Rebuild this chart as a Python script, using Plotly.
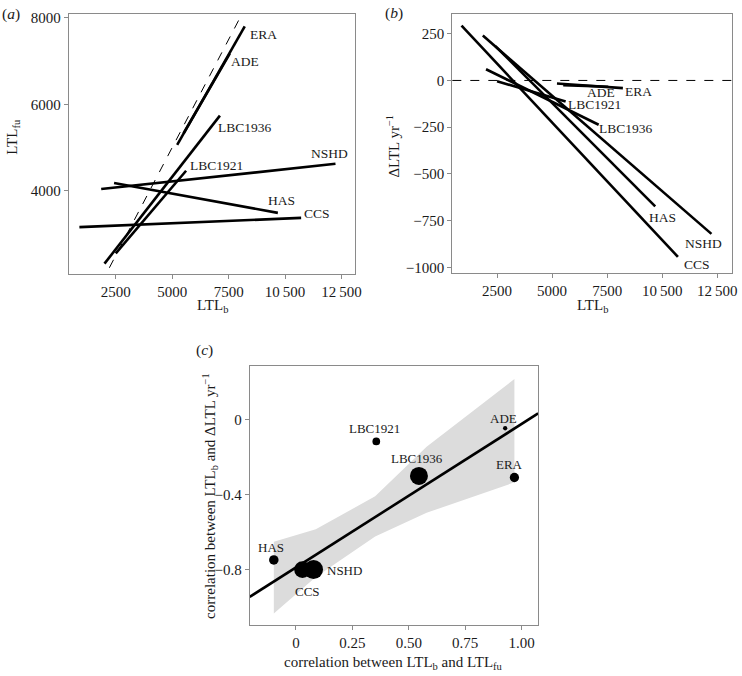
import plotly.graph_objects as go

# ---------------- data ----------------
cohorts = ["ERA", "ADE", "LBC1936", "LBC1921", "NSHD", "HAS", "CCS"]

# panel (a)/(b): regression segments over baseline LTL range
ltl_b_start = [5220, 5505, 2000, 2500, 1855, 2424, 889]
ltl_b_end = [8213, 7550, 7113, 5615, 12233, 9680, 10711]
ltl_fu_start = [5060, 5329, 2311, 2548, 4039, 4177, 3157]
ltl_fu_end = [7802, 7173, 5737, 4461, 4622, 3486, 3371]
dltl_start = [-16, -25, 60, -4, 240, 184, 293]
dltl_end = [-41, -34, -237, -113, -821, -674, -944]

# label positions (a)
lab_a_x = [9047, 8238, 8238, 6964, 11973, 9851, 11402]
lab_a_y = [7627, 6982, 5468, 4576, 4869, 3770, 3463]
# label positions (b)
lab_b_x = [8919, 7205, 8364, 6934, 11868, 10019, 11566]
lab_b_y = [-57, -65, -255, -131, -874, -734, -983]

# panel (c)
corr_b_fu = [0.968, 0.927, 0.545, 0.356, 0.078, -0.098, 0.029]
corr_b_dltl = [-0.308, -0.046, -0.300, -0.116, -0.798, -0.747, -0.798]
lab_c_x = [0.945, 0.918, 0.535, 0.349, 0.215, -0.110, 0.051]
lab_c_y = [-0.241, 0.005, -0.209, -0.047, -0.805, -0.682, -0.917]
fit_intercept = -0.787
fit_slope = 0.764
band_x = [-0.098, 0.088, 0.351, 0.579, 0.968]
band_upper = [-0.650, -0.584, -0.408, -0.144, 0.216]
band_lower = [-1.032, -0.838, -0.622, -0.496, -0.334]

ticks_ltl = [2500, 5000, 7500, 10000, 12500]
ticks_ltl_text = ["2500", "5000", "7500", "10\u2009500", "12\u2009500"]

# ---------------- style ----------------
FONT = "Liberation Serif"
W, H = 742, 676
marker_diam = [9.3, 4.3, 18, 7.7, 19, 9.5, 16.7]
frame_col = "#8a8a8a"
txt_col = "#1a1a1a"

fig = go.Figure()

# panel a
for i, c in enumerate(cohorts):
    fig.add_trace(go.Scatter(
        x=[ltl_b_start[i], ltl_b_end[i]], y=[ltl_fu_start[i], ltl_fu_end[i]],
        mode="lines", line=dict(color="black", width=2.6),
        xaxis="x", yaxis="y", showlegend=False, hoverinfo="skip"))
# identity
ident = [0, 10000]
fig.add_trace(go.Scatter(x=ident, y=ident, mode="lines",
                         line=dict(color="black", width=1, dash="dash"),
                         xaxis="x", yaxis="y", showlegend=False, hoverinfo="skip"))

# panel b
for i, c in enumerate(cohorts):
    fig.add_trace(go.Scatter(
        x=[ltl_b_start[i], ltl_b_end[i]], y=[dltl_start[i], dltl_end[i]],
        mode="lines", line=dict(color="black", width=2.6),
        xaxis="x2", yaxis="y2", showlegend=False, hoverinfo="skip"))

# panel c: ribbon
fig.add_trace(go.Scatter(
    x=band_x + band_x[::-1], y=band_upper + band_lower[::-1],
    fill="toself", fillcolor="#dcdcdc", line=dict(width=0),
    mode="lines", xaxis="x3", yaxis="y3", showlegend=False, hoverinfo="skip"))
xr3 = [-0.205, 1.073]
fig.add_trace(go.Scatter(
    x=xr3, y=[fit_intercept + fit_slope * v for v in xr3],
    mode="lines", line=dict(color="black", width=2.6),
    xaxis="x3", yaxis="y3", showlegend=False, hoverinfo="skip"))
fig.add_trace(go.Scatter(
    x=corr_b_fu, y=corr_b_dltl, mode="markers",
    marker=dict(color="#000000", size=marker_diam, opacity=1,
                line=dict(width=0, color="#000000")),
    opacity=1,
    xaxis="x3", yaxis="y3", showlegend=False, hoverinfo="skip"))


def F(size):
    return dict(family=FONT, size=size, color=txt_col)


ann = []
for i, c in enumerate(cohorts):
    ann.append(dict(x=lab_a_x[i], y=lab_a_y[i], xref="x", yref="y", text=c,
                    showarrow=False, font=F(13.5)))
    ann.append(dict(x=lab_b_x[i], y=lab_b_y[i], xref="x2", yref="y2", text=c,
                    showarrow=False, font=F(13.5)))
    ann.append(dict(x=lab_c_x[i], y=lab_c_y[i], xref="x3", yref="y3", text=c,
                    showarrow=False, font=F(13)))


def P(px, py, text, size=15, angle=0, xa="center"):
    return dict(x=px / W, y=1 - py / H, xref="paper", yref="paper", text=text,
                showarrow=False, textangle=angle, xanchor=xa, yanchor="middle",
                font=F(size))


ann += [
    P(0, 10, "(<i>a</i>)", 15.5, xa="left"),
    P(386, 9, "(<i>b</i>)", 15.5, xa="left"),
    P(196, 349, "(<i>c</i>)", 15.5, xa="left"),
    P(214, 305, "LTL<sub>b</sub>"),
    P(597, 305, "LTL<sub>b</sub>"),
    P(397, 665, "correlation between LTL<sub>b</sub> and LTL<sub>fu</sub>"),
    P(13, 134, "LTL<sub>fu</sub>", angle=-90),
    P(396, 143, "\u0394LTL yr<sup>\u22121</sup>", angle=-90),
    P(211, 496, "correlation between LTL<sub>b</sub> and \u0394LTL yr<sup>\u22121</sup>", angle=-90),
]

axis_common = dict(showline=True, mirror=True, linecolor=frame_col, linewidth=1,
                   ticks="outside", ticklen=4, tickcolor=frame_col, tickwidth=1,
                   showgrid=False, zeroline=False,
                   tickfont=F(15))

layout = dict(
    width=W, height=H, margin=dict(l=0, r=0, t=0, b=0),
    paper_bgcolor="white", plot_bgcolor="white",
    font=dict(family=FONT, color=txt_col),
    xaxis=dict(axis_common, domain=[69.3 / W, 358.3 / W], range=[417, 13115],
               tickvals=ticks_ltl, ticktext=ticks_ltl_text, anchor="y"),
    yaxis=dict(axis_common, domain=[1 - 272.7 / H, 1 - 10 / H], range=[2065, 8092],
               tickvals=[4000, 6000, 8000], anchor="x"),
    xaxis2=dict(axis_common, domain=[456 / W, 737.5 / W], range=[470, 13145],
                tickvals=ticks_ltl, ticktext=ticks_ltl_text, anchor="y2"),
    yaxis2=dict(axis_common, domain=[1 - 271.7 / H, 1 - 10 / H], range=[-1032, 356],
                tickvals=[-1000, -750, -500, -250, 0, 250],
                ticktext=["\u22121000", "\u2212750", "\u2212500", "\u2212250", "0", "250"],
                anchor="x2"),
    xaxis3=dict(axis_common, domain=[251.7 / W, 542.5 / W], range=xr3,
                tickvals=[0, 0.25, 0.5, 0.75, 1.0],
                ticktext=["0", "0.25", "0.50", "0.75", "1.00"], anchor="y3"),
    yaxis3=dict(axis_common, domain=[1 - 626.7 / H, 1 - 365.7 / H], range=[-1.094, 0.283],
                tickvals=[-0.8, -0.4, 0], ticktext=["\u22120.8", "\u22120.4", "0"],
                anchor="x3"),
    annotations=ann,
    shapes=[dict(type="line", xref="x2 domain", yref="y2", x0=0, x1=1, y0=0, y1=0,
                 line=dict(color="black", width=1, dash="dash"))],
)
fig.update_layout(layout)
fig.write_html("out.html", config={"displayModeBar": False},
               post_script="document.body.style.margin='0';document.body.style.padding='0';")
